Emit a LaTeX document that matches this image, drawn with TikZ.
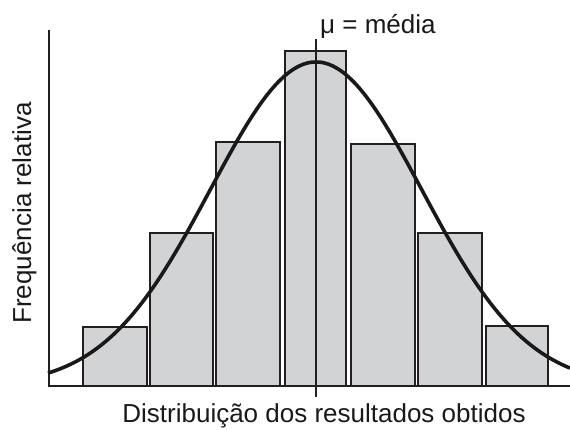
\documentclass[tikz,border=0pt]{standalone}
\usepackage{fontspec}
\setmainfont{Liberation Sans}
\definecolor{barfill}{RGB}{210,211,213}
\definecolor{barline}{RGB}{35,31,32}
\tikzset{
	bar/.style={draw=barline, fill=barfill, line width=1.4pt},
	axis/.style={draw=barline, line width=1.3pt},
	bell/.style={draw=black!90, line width=3.6pt},
	lbl/.style={inner sep=0pt, font=\fontsize{26}{30}\selectfont, text=black!90},
}
\begin{document}
\begin{tikzpicture}[x=1pt, y=-1pt]
	\useasboundingbox (0,0) rectangle (570,429);
	
	% Axes
	\coordinate (O)    at ( 49, 386);
	\coordinate (Ytop) at ( 49,  30);
	\coordinate (Xend) at (570, 386);
	
	% Bars (left, right, top)
	\draw[bar] ( 83, 386) rectangle (147, 327);
	\draw[bar] (150, 386) rectangle (213, 233);
	\draw[bar] (216, 386) rectangle (280, 142);
	\draw[bar] (285, 386) rectangle (346,  51);
	\draw[bar] (351, 386) rectangle (415, 144);
	\draw[bar] (418, 386) rectangle (482, 233);
	\draw[bar] (486, 386) rectangle (548, 326);
	
	\draw[axis] (Ytop) -- (O) -- (Xend);
	
	% Mean line
	\coordinate (Mtop) at (316,  39);
	\coordinate (Mbot) at (316, 397);
	\draw[axis] (Mtop) -- (Mbot);
	
	% Normal curve, mean 316, sigma 105.6
	\draw[bell] plot[domain=48:570, samples=120, smooth]
		(\x, {386-324*exp(-0.5*((\x-316)/105.6)^2)});
	
	\node[lbl, anchor=base west] (mulabel) at (320, 33) {μ = média};
	\node[lbl, anchor=base] (xlabel) at (324, 422) {Distribuição dos resultados obtidos};
	\node[lbl, anchor=base, rotate=90] (ylabel) at (31, 213) {Frequência relativa};
	
\end{tikzpicture}
\end{document}
